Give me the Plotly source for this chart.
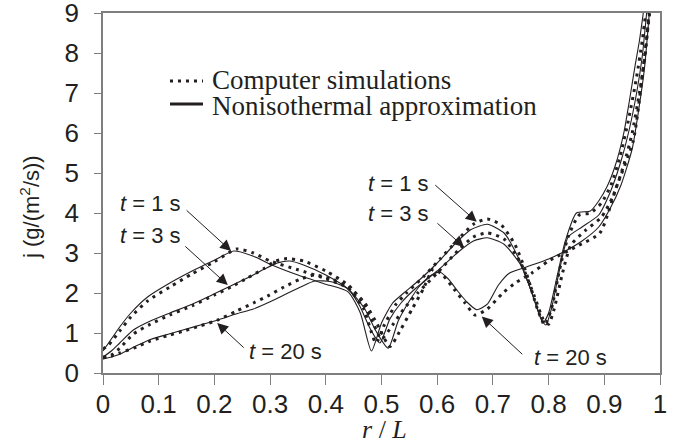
import plotly.graph_objects as go

# ---- data ----
x_approx_1s = [0.0, 0.01, 0.03, 0.05, 0.08, 0.12, 0.16, 0.20, 0.235, 0.27, 0.30, 0.35, 0.40, 0.44, 0.462, 0.482,
               0.50, 0.52, 0.54, 0.57, 0.60, 0.63, 0.66, 0.69, 0.72, 0.745, 0.765, 0.78, 0.79, 0.80, 0.815, 0.83,
               0.85, 0.875, 0.89, 0.905, 0.92, 0.935, 0.945, 0.955, 0.963, 0.97, 0.975]
y_approx_1s = [0.55, 0.75, 1.15, 1.5, 1.9, 2.25, 2.55, 2.82, 3.05, 2.92, 2.72, 2.45, 2.22, 2.03, 1.5, 0.55,
               1.25, 1.75, 2.0, 2.35, 2.75, 3.2, 3.58, 3.72, 3.5, 2.9, 2.2, 1.6, 1.25, 1.5, 2.4, 3.3,
               4.0, 4.05, 4.3, 4.66, 5.2, 6.0, 6.8, 7.66, 8.3, 9.0, 9.5]

x_sim_1s = [0.0, 0.01, 0.03, 0.05, 0.08, 0.12, 0.16, 0.20, 0.24, 0.27, 0.30, 0.35, 0.40, 0.44, 0.468, 0.49,
            0.505, 0.525, 0.545, 0.575, 0.605, 0.635, 0.665, 0.69, 0.715, 0.74, 0.76, 0.78, 0.793, 0.805, 0.82,
            0.835, 0.855, 0.875, 0.895, 0.912, 0.928, 0.943, 0.958, 0.968, 0.978]
y_sim_1s = [0.6, 0.7, 1.05, 1.4, 1.8, 2.15, 2.48, 2.78, 3.1, 3.0, 2.8, 2.58, 2.36, 2.12, 1.6, 0.75,
            1.2, 1.7, 2.0, 2.4, 2.85, 3.3, 3.72, 3.85, 3.7, 3.2, 2.5, 1.6, 1.2, 1.6, 2.6,
            3.4, 3.95, 4.0, 4.25, 4.7, 5.4, 6.3, 7.4, 8.3, 9.4]

x_approx_3s = [0.0, 0.015, 0.03, 0.055, 0.085, 0.12, 0.16, 0.20, 0.23, 0.26, 0.29, 0.315, 0.335, 0.36, 0.40,
               0.44, 0.46, 0.48, 0.497, 0.515, 0.535, 0.56, 0.60, 0.64, 0.665, 0.69, 0.72, 0.75, 0.77, 0.785,
               0.795, 0.805, 0.82, 0.835, 0.86, 0.89, 0.91, 0.93, 0.945, 0.958, 0.968, 0.978]
y_approx_3s = [0.4, 0.55, 0.75, 1.08, 1.3, 1.5, 1.72, 1.98, 2.18, 2.38, 2.6, 2.76, 2.8, 2.7, 2.45,
               2.1, 1.7, 1.1, 0.75, 1.35, 1.75, 2.1, 2.55, 3.05, 3.3, 3.38, 3.22, 2.7, 2.0, 1.4,
               1.2, 1.6, 2.6, 3.4, 3.65, 3.95, 4.5, 5.3, 6.1, 7.0, 7.9, 9.3]

x_sim_3s = [0.0, 0.015, 0.03, 0.055, 0.085, 0.12, 0.16, 0.20, 0.23, 0.26, 0.29, 0.31, 0.33, 0.36, 0.40,
            0.44, 0.465, 0.485, 0.50, 0.52, 0.54, 0.565, 0.60, 0.64, 0.665, 0.69, 0.72, 0.75, 0.775, 0.79,
            0.80, 0.81, 0.825, 0.84, 0.865, 0.895, 0.915, 0.935, 0.95, 0.963, 0.973, 0.982]
y_sim_3s = [0.4, 0.45, 0.62, 0.98, 1.22, 1.45, 1.68, 1.95, 2.15, 2.38, 2.62, 2.8, 2.86, 2.8, 2.55,
            2.2, 1.8, 1.25, 0.85, 1.2, 1.6, 2.0, 2.5, 3.1, 3.4, 3.5, 3.35, 2.75, 1.9, 1.35,
            1.22, 1.6, 2.5, 3.2, 3.55, 3.9, 4.4, 5.2, 6.0, 7.0, 7.9, 9.3]

x_approx_20s = [0.0, 0.015, 0.03, 0.06, 0.085, 0.12, 0.145, 0.175, 0.205, 0.24, 0.27, 0.295, 0.325, 0.355,
                0.38, 0.41, 0.44, 0.47, 0.49, 0.512, 0.53, 0.55, 0.57, 0.59, 0.605, 0.62, 0.635, 0.653, 0.671,
                0.69, 0.71, 0.73, 0.76, 0.80, 0.83, 0.86, 0.89, 0.91, 0.93, 0.95, 0.962, 0.972, 0.982]
y_approx_20s = [0.35, 0.4, 0.47, 0.68, 0.84, 0.98, 1.08, 1.2, 1.32, 1.48, 1.6, 1.75, 1.95, 2.15,
                2.3, 2.28, 2.1, 1.6, 1.05, 0.62, 1.3, 1.8, 2.2, 2.45, 2.52, 2.35, 2.08, 1.78, 1.58,
                1.72, 2.2, 2.5, 2.65, 2.85, 3.05, 3.3, 3.65, 4.1, 4.7, 5.6, 6.6, 7.6, 9.2]

x_sim_20s = [0.0, 0.015, 0.03, 0.06, 0.085, 0.12, 0.145, 0.175, 0.205, 0.24, 0.27, 0.295, 0.325, 0.355,
             0.38, 0.41, 0.44, 0.47, 0.495, 0.515, 0.535, 0.555, 0.575, 0.593, 0.61, 0.63, 0.65, 0.668,
             0.69, 0.718, 0.74, 0.77, 0.80, 0.85, 0.892, 0.922, 0.952, 0.97, 0.978, 0.985]
y_sim_20s = [0.38, 0.42, 0.5, 0.65, 0.8, 0.95, 1.05, 1.18, 1.32, 1.55, 1.75, 1.92, 2.15, 2.35,
             2.45, 2.35, 2.15, 1.75, 1.15, 0.66, 1.1, 1.6, 2.1, 2.6, 2.45, 2.1, 1.75, 1.45,
             1.6, 2.0, 2.25, 2.5, 2.8, 3.16, 3.5, 4.66, 5.8, 7.66, 8.6, 9.4]

x_ticks = [0, 0.1, 0.2, 0.3, 0.4, 0.5, 0.6, 0.7, 0.8, 0.9, 1]
x_tick_labels = ["0", "0.1", "0.2", "0.3", "0.4", "0.5", "0.6", "0.7", "0.8", "0.9", "1"]
y_ticks = [0, 1, 2, 3, 4, 5, 6, 7, 8, 9]

legend_labels = ["Computer simulations", "Nonisothermal approximation"]
x_title = "<i>r</i> / <i>L</i>"
y_title = "j (g/(m<sup>2</sup>/s))"

# annotations: (label, tip x, tip y, tail offset px x, y, label x, label y)
arrow_labels = [
    ("t = 1 s", 0.230, 3.05, -46, -42, 0.085, 4.25),
    ("t = 3 s", 0.224, 2.2, -44, -40, 0.085, 3.45),
    ("t = 20 s", 0.205, 1.25, 28, 26, 0.328, 0.53),
    ("t = 1 s", 0.671, 3.78, -43, -38, 0.53, 4.75),
    ("t = 3 s", 0.648, 3.15, -28, -25, 0.53, 4.0),
    ("t = 20 s", 0.68, 1.41, 42, 39, 0.84, 0.4),
]

INK = "#231f20"
AXC = "#7f7f7f"

fig = go.Figure()
dot_dash = "3px,5px"
series = [
    (x_sim_1s, y_sim_1s, True), (x_sim_3s, y_sim_3s, True), (x_sim_20s, y_sim_20s, True),
    (x_approx_1s, y_approx_1s, False), (x_approx_3s, y_approx_3s, False), (x_approx_20s, y_approx_20s, False),
]
for xs, ys, dotted in series:
    if dotted:
        line = dict(color=INK, width=3, dash=dot_dash, shape="spline", smoothing=0.6)
    else:
        line = dict(color=INK, width=1.1, shape="spline", smoothing=0.6)
    fig.add_trace(go.Scatter(x=xs, y=ys, mode="lines", line=line, showlegend=False, hoverinfo="skip"))

# legend drawn manually (tighter row spacing than plotly's legend)
leg_x0, leg_x1 = (170 - 103) / 557, (203 - 103) / 557
fig.add_shape(type="line", xref="paper", yref="paper", x0=leg_x0, x1=leg_x1,
              y0=(373 - 81) / 360, y1=(373 - 81) / 360, line=dict(color=INK, width=3, dash=dot_dash))
fig.add_shape(type="line", xref="paper", yref="paper", x0=leg_x0, x1=leg_x1,
              y0=(373 - 104) / 360, y1=(373 - 104) / 360, line=dict(color=INK, width=3))
for i, lab in enumerate(legend_labels):
    fig.add_annotation(xref="paper", yref="paper", x=(210 - 103) / 557, y=(373 - (80 + 26 * i)) / 360,
                       text=lab, showarrow=False, xanchor="left", yanchor="middle",
                       font=dict(family="Liberation Serif", size=27, color=INK))

for lab, tx, ty, axp, ayp, lx, ly in arrow_labels:
    fig.add_annotation(x=tx, y=ty, ax=axp, ay=ayp, text="", showarrow=True,
                       arrowhead=2, arrowsize=2.2, arrowwidth=1, arrowcolor=INK)
    t_part, rest = lab.split(" ", 1)
    fig.add_annotation(x=lx, y=ly, text="<i>" + t_part + "</i> " + rest, showarrow=False,
                       xanchor="center", yanchor="middle",
                       font=dict(family="Liberation Sans", size=22, color=INK))

# axis titles
fig.add_annotation(xref="paper", yref="paper", x=(385 - 103) / 557, y=(373 - 430) / 360, text=x_title,
                   showarrow=False, xanchor="center", yanchor="middle",
                   font=dict(family="Liberation Serif", size=26, color=INK))
fig.add_annotation(xref="paper", yref="paper", x=(30 - 103) / 557, y=(373 - 207) / 360, text=y_title,
                   showarrow=False, textangle=-90, xanchor="center", yanchor="middle",
                   font=dict(family="Liberation Sans", size=22, color=INK))

fig.update_layout(
    width=682, height=444,
    margin=dict(l=103, r=22, t=13, b=71, autoexpand=False),
    paper_bgcolor="white", plot_bgcolor="white",
    showlegend=False,
    font=dict(family="Liberation Sans", color=INK),
    xaxis=dict(range=[0, 1], tickvals=x_ticks, ticktext=x_tick_labels, ticks="outside", ticklen=10,
               tickcolor=AXC, tickwidth=1, showline=True, linecolor=AXC, linewidth=1.5, mirror=True,
               showgrid=False, zeroline=False, tickfont=dict(size=26, color=INK), automargin=False,
               ticklabeloverflow="allow", ticklabelstandoff=-3),
    yaxis=dict(range=[0, 9], tickvals=y_ticks, ticks="outside", ticklen=7, tickcolor=AXC, tickwidth=1,
               showline=True, linecolor=AXC, linewidth=1.5, mirror=True, showgrid=False, zeroline=False,
               tickfont=dict(size=26, color=INK), automargin=False, ticklabeloverflow="allow",
               ticklabelstandoff=10),
)

fig.write_html("out.html", config={"displayModeBar": False},
               post_script="document.body.style.margin='0px';document.body.style.overflow='hidden';")
